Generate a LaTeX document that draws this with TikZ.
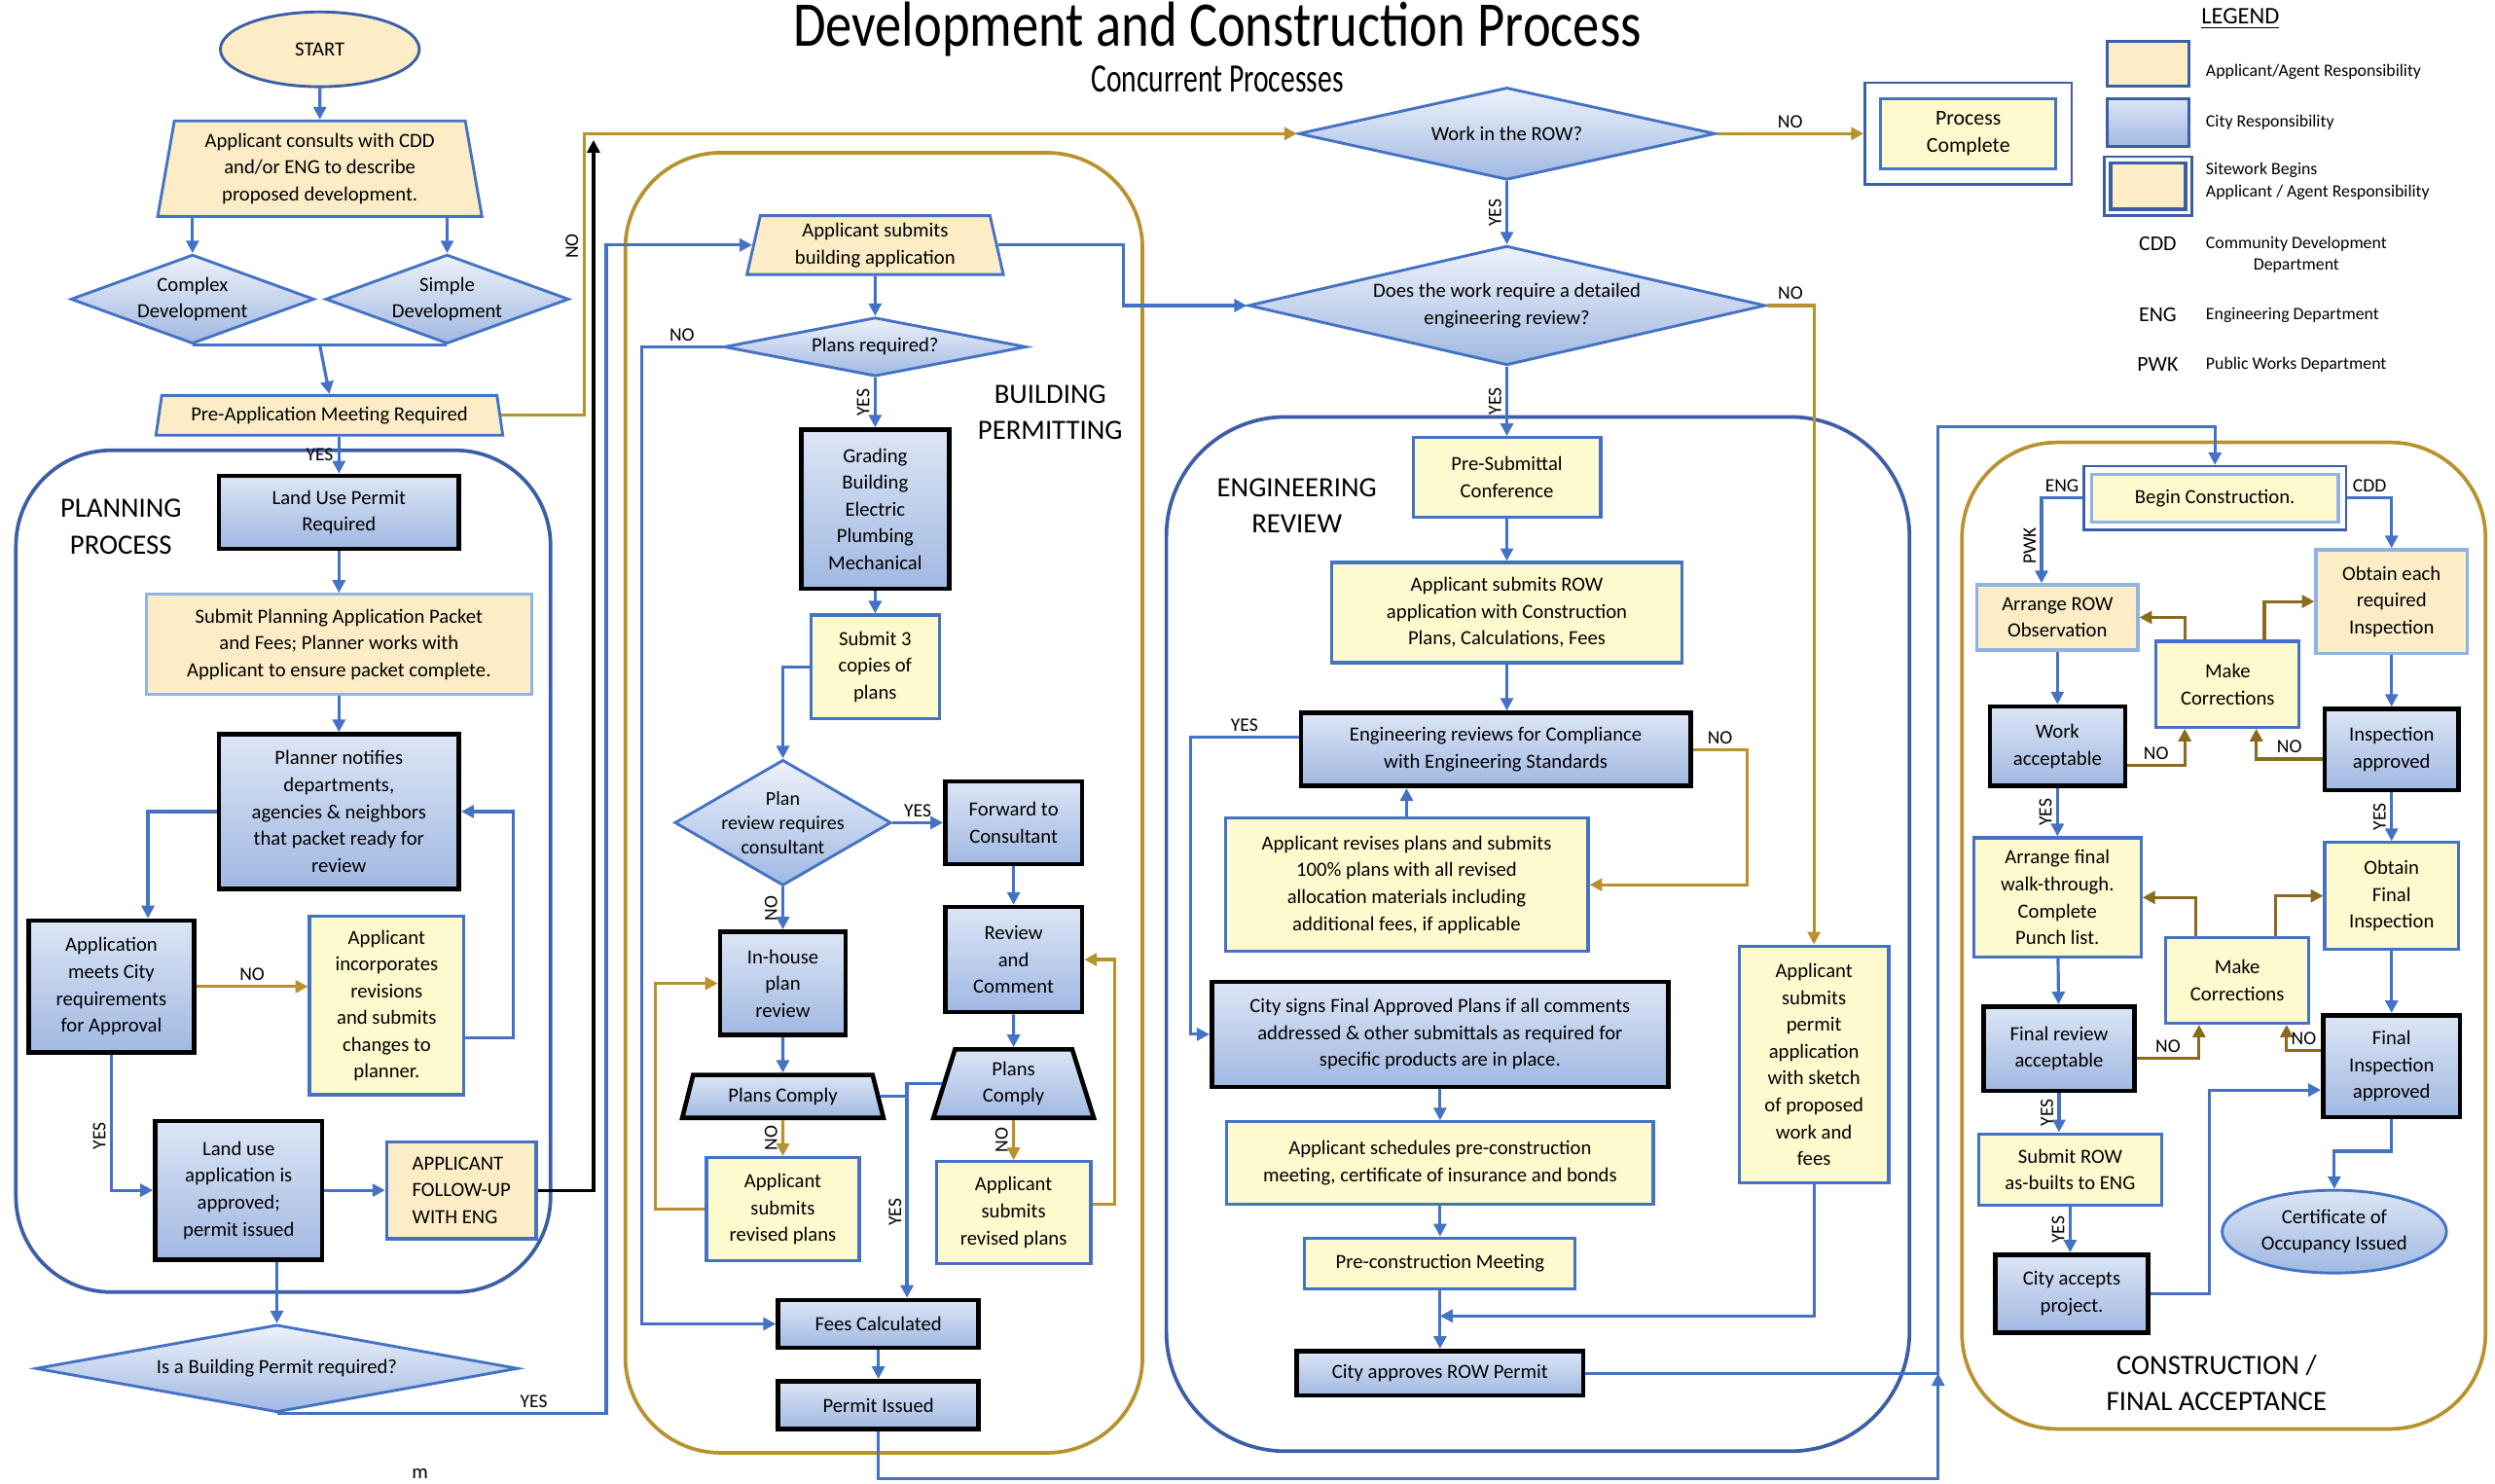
\documentclass[tikz,border=0pt]{standalone}
\usepackage{fontspec}
\setmainfont{Carlito}
\usepackage{tikz}
\usetikzlibrary{shapes.geometric, arrows.meta, positioning}
\definecolor{cdblue}{HTML}{4472C4}
\definecolor{cdframe}{HTML}{3B5EA6}
\definecolor{cdpale}{HTML}{8FB4E3}
\definecolor{citytop}{HTML}{DCE5F5}
\definecolor{citybot}{HTML}{A0B8E2}
\definecolor{appcream}{HTML}{FCEDC6}
\definecolor{appyellow}{HTML}{FFFACE}
\definecolor{cdgold}{HTML}{B8922E}
\definecolor{cdbrown}{HTML}{8A6A1C}

\begin{document}
\begin{tikzpicture}[x=0.02cm, y=-0.02cm,
  wh/.style 2 args={minimum width=#1*0.02cm, minimum height=#2*0.02cm},
  appl/.style={rectangle, draw=cdblue, line width=1.1pt, fill=appyellow, align=center, inner sep=1pt, font=\fontsize{7.2}{9.6}\selectfont},
  applpale/.style={appl, draw=cdpale, fill=appcream},
  city/.style={rectangle, draw=black, line width=1.6pt, top color=citytop, bottom color=citybot, align=center, inner sep=1pt, font=\fontsize{7.2}{9.6}\selectfont},
  cityio/.style={city, trapezium, trapezium stretches=true},
  decide/.style={diamond, draw=cdblue, line width=1pt, top color=citytop!50!white, bottom color=citybot, align=center, inner sep=0pt, font=\fontsize{7.2}{9.6}\selectfont},
  inout/.style={trapezium, trapezium stretches=true, draw=cdblue, line width=1pt, fill=appcream, align=center, inner sep=1pt, font=\fontsize{7.2}{9.6}\selectfont},
  outerframe/.style={rectangle, draw=cdframe, line width=0.9pt, fill=white},
  flow/.style={-{Triangle[length=4.5pt,width=4.5pt]}, cdblue, line width=1.1pt},
  nopath/.style={flow, cdgold},
  corr/.style={flow, cdbrown},
  tag/.style={font=\fontsize{6.8}{7.5}\selectfont, text=black, above, inner sep=1.5pt},
  rottag/.style={font=\fontsize{6.8}{7.5}\selectfont, text=black, rotate=90, anchor=south, inner sep=1.5pt},
  zone/.style={line width=1.3pt, rounded corners=1.2cm},
  zonetitle/.style={align=center, font=\fontsize{10}{13}\selectfont},
  keytext/.style={anchor=west, align=left, inner sep=0pt, font=\fontsize{6.2}{7.8}\selectfont},
  keyabbr/.style={inner sep=0pt, font=\fontsize{7.6}{9}\selectfont}
]
\useasboundingbox (0,0) rectangle (1568,932);

% titles
\node[anchor=base, inner sep=0pt] (title) at (765,29) {\scalebox{1}[1.2]{\fontsize{19}{19}\selectfont Development and Construction Process}};
\node[anchor=base, inner sep=0pt] (subtitle) at (765,58) {\scalebox{1}[1.4]{\fontsize{10.3}{11}\selectfont Concurrent Processes}};

% process zones
\draw[zone, cdframe] (10,283) rectangle (346,812);
\draw[zone, cdgold] (393,96) rectangle (718,913);
\draw[zone, cdframe, rounded corners=1.5cm] (733,262) rectangle (1200,912);
\draw[zone, cdgold] (1233,278) rectangle (1562,898);

% planning
\node[ellipse, draw=cdframe, line width=1pt, fill=appcream, wh={125}{47}, font=\fontsize{7.2}{9.6}\selectfont] (start) at (201,31) {START};
\node[inout, wh={205}{60}, trapezium angle=80] (consult) at (201,106) {Applicant consults with CDD\\and/or ENG to describe\\proposed development.};
\node[decide, wh={153}{56}, shape aspect=2.73] (cplx) at (121,188) {Complex\\Development};
\node[decide, wh={153}{56}, shape aspect=2.73] (smpl) at (281,188) {Simple\\Development};
\node[inout, wh={218}{25}, trapezium angle=78] (preapp) at (207,261) {Pre-Application Meeting Required};
\node[city, wh={151}{46}] (landreq) at (213,322) {Land Use Permit\\Required};
\node[zonetitle] (plantitle) at (76,331) {PLANNING\\PROCESS};
\node[applpale, wh={242}{63}] (subpkt) at (213,405) {Submit Planning Application Packet\\and Fees; Planner works with\\Applicant to ensure packet complete.};
\node[city, wh={151}{97}] (notify) at (213,510) {Planner notifies\\departments,\\agencies \& neighbors\\that packet ready for\\review};
\node[city, wh={104}{83}] (appmeets) at (70,620) {Application\\meets City\\requirements\\for Approval};
\node[appl, wh={97}{112}] (appinc) at (243,632) {Applicant\\incorporates\\revisions\\and submits\\changes to\\planner.};
\node[city, wh={105}{87}] (landapp) at (150,748) {Land use\\application is\\approved;\\permit issued};
\node[appl, fill=appcream, wh={94}{61}, align=left] (followup) at (290,748) {APPLICANT\\FOLLOW-UP\\WITH ENG};
\node[decide, wh={303}{55}, shape aspect=5.5] (bldq) at (174,860) {Is a Building Permit required?};
\node[font=\fontsize{7.2}{9.6}\selectfont] (stray) at (264,926) {m};

% building permitting
\node[inout, wh={162}{37}, trapezium angle=79] (appbld) at (550,154) {Applicant submits\\building application};
\node[decide, wh={190}{37}, shape aspect=5.1] (plreq) at (550,218) {Plans required?};
\node[zonetitle] (bldtitle) at (660,259) {BUILDING\\PERMITTING};
\node[city, wh={93}{100}] (grading) at (550,320) {Grading\\Building\\Electric\\Plumbing\\Mechanical};
\node[appl, wh={81}{65}] (sub3) at (550,419) {Submit 3\\copies of\\plans};
\node[decide, wh={136}{79}, shape aspect=1.72, label={[align=center, inner sep=0pt, font=\fontsize{7}{8.6}\selectfont]center:Plan\\review requires\\consultant}] (prc) at (492,517) {};
\node[city, wh={86}{52}] (fwd) at (637,517) {Forward to\\Consultant};
\node[city, wh={86}{66}] (revcom) at (637,603) {Review\\and\\Comment};
\node[city, wh={79}{65}] (inhouse) at (492,618) {In-house\\plan\\review};
\node[cityio, wh={127}{27}, trapezium angle=73] (cmpl1) at (492,689) {Plans Comply};
\node[cityio, wh={101}{43}, trapezium angle=76] (cmpl2) at (637,681) {Plans\\Comply};
\node[appl, wh={96}{65}] (rev1) at (492,760) {Applicant\\submits\\revised plans};
\node[appl, wh={97}{64}] (rev2) at (637,762) {Applicant\\submits\\revised plans};
\node[city, wh={126}{30}] (fees) at (552,832) {Fees Calculated};
\node[city, wh={126}{30}] (permit) at (552,883) {Permit Issued};
\coordinate (cmpljoin) at (570,686);

% engineering review
\node[decide, wh={262}{58}, shape aspect=4.5] (row) at (947,84) {Work in the ROW?};
\node[outerframe, wh={130}{64}] (doneframe) at (1237,84) {};
\node[appl, wh={110}{44}, font=\fontsize{7.6}{10}\selectfont] (done) at (1237,84) {Process\\Complete};
\node[decide, wh={325}{75}, shape aspect=4.33] (detrev) at (947,192) {Does the work require a detailed\\engineering review?};
\node[zonetitle] (engtitle) at (815,318) {ENGINEERING\\REVIEW};
\node[appl, wh={118}{50}] (presub) at (947,300) {Pre-Submittal\\Conference};
\node[appl, wh={220}{63}] (rowapp) at (947,385) {Applicant submits ROW\\application with Construction\\Plans, Calculations, Fees};
\node[city, wh={245}{46}] (engrev) at (940,471) {Engineering reviews for Compliance\\with Engineering Standards};
\node[appl, wh={228}{84}] (apprev) at (884,556) {Applicant revises plans and submits\\100\% plans with all revised\\allocation materials including\\additional fees, if applicable};
\node[city, wh={287}{66}] (citysign) at (905,650) {City signs Final Approved Plans if all comments\\addressed \& other submittals as required for\\specific products are in place.};
\node[appl, wh={268}{52}] (sched) at (905,731) {Applicant schedules pre-construction\\meeting, certificate of insurance and bonds};
\node[appl, wh={170}{32}] (premeet) at (905,794) {Pre-construction Meeting};
\node[city, wh={180}{28}] (cityapp) at (905,863) {City approves ROW Permit};
\node[appl, wh={94}{149}] (permapp) at (1140,669) {Applicant\\submits\\permit\\application\\with sketch\\of proposed\\work and\\fees};
\coordinate (pmjoin) at (905,827);
\coordinate (trunkbot) at (1218,929);
\coordinate (trunktop) at (1218,268);
\coordinate (blktop) at (373,88);

% construction / final acceptance
\node[outerframe, wh={165}{40}] (beginfr) at (1392,313) {};
\node[appl, draw=cdpale, wh={155}{30}] (begin) at (1392,313) {Begin Construction.};
\node[applpale, wh={101}{41}] (arrrow) at (1293,388) {Arrange ROW\\Observation};
\node[applpale, wh={95}{65}] (obeach) at (1503,378) {Obtain each\\required\\Inspection};
\node[appl, wh={90}{54}] (mkc1) at (1400,430) {Make\\Corrections};
\node[city, wh={85}{50}] (workok) at (1293,469) {Work\\acceptable};
\node[city, wh={84}{51}] (inspok) at (1503,471) {Inspection\\approved};
\node[appl, wh={105}{75}] (arrfin) at (1293,564) {Arrange final\\walk-through.\\Complete\\Punch list.};
\node[appl, wh={84}{67}] (obfin) at (1503,563) {Obtain\\Final\\Inspection};
\node[appl, wh={90}{54}] (mkc2) at (1406,616) {Make\\Corrections};
\node[city, wh={95}{53}] (finrev) at (1294,659) {Final review\\acceptable};
\node[city, wh={86}{64}] (finins) at (1503,670) {Final\\Inspection\\approved};
\node[appl, wh={115}{45}] (subrow) at (1301,735) {Submit ROW\\as-builts to ENG};
\node[city, wh={96}{49}] (cityacc) at (1302,813) {City accepts\\project.};
\node[ellipse, draw=cdblue, line width=1pt, top color=citytop, bottom color=citybot, wh={141}{52}, align=center, inner sep=0pt, font=\fontsize{7.2}{9.6}\selectfont] (cert) at (1467,774) {Certificate of\\Occupancy Issued};
\node[zonetitle] (consttitle) at (1393,869) {CONSTRUCTION /\\FINAL ACCEPTANCE};

% legend
\node[font=\fontsize{8.5}{10}\selectfont] (legend) at (1408,12) {\underline{LEGEND}};
\node[rectangle, draw=cdframe, line width=1pt, fill=appcream, wh={51}{28}] (keyappl) at (1350,40) {};
\node[keytext] (keyappltext) at (1386,45) {Applicant/Agent Responsibility};
\node[rectangle, draw=cdframe, line width=1pt, top color=citytop, bottom color=citybot, wh={51}{30}] (keycity) at (1350,77) {};
\node[keytext] (keycitytext) at (1386,77) {City Responsibility};
\node[outerframe, wh={55}{37}] (keysitefr) at (1350,117) {};
\node[rectangle, draw=cdframe, line width=1.2pt, fill=appcream, wh={47}{29}] (keysite) at (1350,117) {};
\node[keytext] (keysitetext) at (1386,114) {Sitework Begins\\Applicant / Agent Responsibility};
\node[keyabbr] (keycdd) at (1356,153) {CDD};
\node[keytext, align=center] (keycddtext) at (1386,160) {Community Development\\Department};
\node[keyabbr] (keyeng) at (1356,198) {ENG};
\node[keytext] (keyengtext) at (1386,198) {Engineering Department};
\node[keyabbr] (keypwk) at (1356,229) {PWK};
\node[keytext] (keypwktext) at (1386,229) {Public Works Department};

% planning flow
\draw[flow] (start) -- (consult);
\draw[flow] (consult.south -| cplx) -- (cplx);
\draw[flow] (consult.south -| smpl) -- (smpl);
\draw[cdblue, line width=1.1pt] (cplx.south) -- (smpl.south);
\draw[flow] (cplx.south -| consult) -- (preapp.north);
\draw[flow] (preapp.south -| landreq.north) -- node[tag, left]{YES} (landreq.north);
\draw[nopath] (preapp.east) -- ++(52,0) |- node[pos=0.3, rottag]{NO} (row.west);
\draw[flow] (landreq) -- (subpkt);
\draw[flow] (subpkt) -- (notify);
\draw[flow] (notify.west) -| ([xshift=0.46cm]appmeets.north);
\draw[nopath] (appmeets.east) -- node[tag]{NO} (appmeets.east -| appinc.west);
\draw[flow] ([yshift=-0.4cm]appinc.east) -- ++(30,0) |- (notify.east);
\draw[flow] (appmeets.south) |- node[pos=0.3, rottag]{YES} (landapp.west);
\draw[flow] (landapp) -- (followup);
\draw[flow, black] (followup.east) -| (blktop);
\draw[flow] (landapp.south -| bldq.north) -- (bldq.north);
\draw[flow] (bldq.south) -- node[tag, pos=0.78]{YES} ++(207,0) |- (appbld.west);

% building flow
\draw[flow] (appbld) -- (plreq);
\draw[flow] (appbld.east) -- ++(79,0) |- (detrev.west);
\draw[flow] (plreq.west) -- node[tag]{NO} ++(-51,0) |- (fees.west);
\draw[flow] (plreq) -- node[rottag]{YES} (grading);
\draw[flow] (grading) -- (sub3);
\draw[flow] (sub3.west) -| (prc.north);
\draw[flow] (prc.east) -- node[tag]{YES} (prc.east -| fwd.west);
\draw[flow] (fwd) -- (revcom);
\draw[flow] (prc.south) -- node[rottag]{NO} (prc.south |- inhouse.north);
\draw[flow] (inhouse) -- (cmpl1);
\draw[flow] (revcom) -- (cmpl2);
\draw[nopath] (cmpl1) -- node[rottag]{NO} (rev1);
\draw[nopath] (cmpl2) -- node[rottag]{NO} (rev2);
\draw[nopath] (rev1.west) -- ++(-31,0) |- (inhouse.west);
\draw[nopath] ([yshift=0.1cm]rev2.east) -- ++(14,0) |- (revcom.east);
\draw[cdblue, line width=1.1pt] (cmpl1.east) -| (cmpljoin);
\draw[flow] (cmpl2.west) -| node[pos=0.8, rottag]{YES} (cmpljoin |- fees.north);
\draw[flow] (fees) -- (permit);
\draw[flow] (permit.south) |- (trunkbot) -- (trunkbot |- cityapp.east);

% engineering flow
\draw[nopath] (row.east) -- node[tag]{NO} (doneframe.west);
\draw[flow] (row) -- node[rottag]{YES} (detrev);
\draw[nopath] (detrev.east) -| node[pos=0.25, tag]{NO} (permapp.north);
\draw[flow] (detrev) -- node[rottag]{YES} (presub);
\draw[flow] (presub) -- (rowapp);
\draw[flow] (rowapp.south) -- (rowapp.south |- engrev.north);
\draw[flow] ([yshift=0.16cm]engrev.west) -- node[tag]{YES} ++(-68,0) |- (citysign.west);
\draw[nopath] (engrev.east) -- node[tag]{NO} ++(34,0) |- (apprev.east);
\draw[flow] (apprev.north) -- (apprev.north |- engrev.south);
\draw[flow] (citysign) -- (sched);
\draw[flow] (sched) -- (premeet);
\draw[flow] (premeet) -- (cityapp);
\draw[flow] (permapp.south) |- (pmjoin);
\draw[flow] (cityapp.east) -| (trunktop) -| (beginfr.north);

% construction flow
\draw[flow] (beginfr.west) -| node[pos=0.25, tag]{ENG} node[pos=0.78, rottag]{PWK} ([xshift=-0.2cm]arrrow.north);
\draw[flow] (beginfr.east) -| node[pos=0.25, tag]{CDD} (obeach.north);
\draw[flow] (arrrow) -- (workok);
\draw[flow] (obeach) -- (inspok);
\draw[corr] ([xshift=-0.54cm]mkc1.north) |- (arrrow.east);
\draw[corr] ([xshift=0.46cm]mkc1.north) |- (obeach.west);
\draw[corr] ([yshift=-0.24cm]workok.east) -| node[pos=0.25, tag]{NO} ([xshift=-0.54cm]mkc1.south);
\draw[corr] ([yshift=-0.12cm]inspok.west) -| node[pos=0.25, tag]{NO} ([xshift=0.36cm]mkc1.south);
\draw[flow] (workok) -- node[rottag]{YES} (arrfin);
\draw[flow] (inspok) -- node[rottag]{YES} (obfin);
\draw[corr] ([xshift=-0.52cm]mkc2.north) |- (arrfin.east);
\draw[corr] ([xshift=0.48cm]mkc2.north) |- (obfin.west);
\draw[flow] (arrfin) -- (finrev);
\draw[flow] (obfin) -- (finins);
\draw[corr] ([yshift=-0.12cm]finrev.east) -| node[pos=0.25, tag]{NO} ([xshift=-0.48cm]mkc2.south);
\draw[corr] ([yshift=0.2cm]finins.west) -| node[pos=0.25, tag]{NO} ([xshift=0.62cm]mkc2.south);
\draw[flow] (finrev.south) -- node[rottag]{YES} (finrev.south |- subrow.north);
\draw[flow] (subrow.south) -- node[rottag]{YES} (subrow.south |- cityacc.north);
\draw[flow] (cityacc.east) -- ++(37,0) |- ([yshift=-0.3cm]finins.west);
\draw[flow] (finins.south) -- ++(0,20) -| (cert.north);
\end{tikzpicture}
\end{document}
